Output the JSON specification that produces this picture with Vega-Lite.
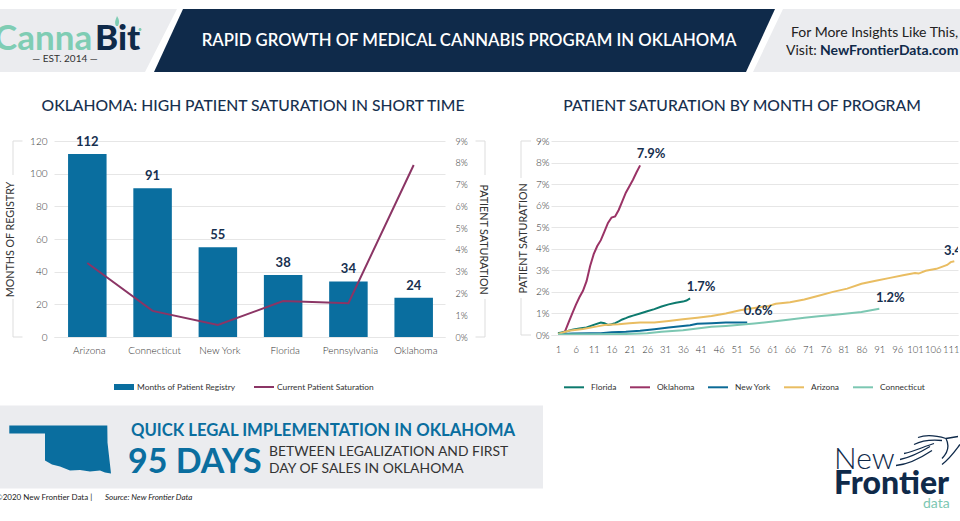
{
"$schema":"https://vega.github.io/schema/vega-lite/v6.json",
"padding":0,"background":"white",
"config":{"view":{"stroke":null},"font":"Lato","axis":{"labelFont":"Lato","titleFont":"Lato","labelFontWeight":300,"titleFontWeight":400},"legend":{"labelFont":"Lato"},"title":{"font":"Lato"}},
"datasets":{
"states":[
{"state":"Arizona","months":112,"sat":3.4},
{"state":"Connecticut","months":91,"sat":1.2},
{"state":"New York","months":55,"sat":0.55},
{"state":"Florida","months":38,"sat":1.65},
{"state":"Pennsylvania","months":34,"sat":1.55},
{"state":"Oklahoma","months":24,"sat":7.9}],
"series":[
{"s":"Oklahoma","m":1,"v":0.06},{"s":"Oklahoma","m":2,"v":0.08},{"s":"Oklahoma","m":3,"v":0.18},{"s":"Oklahoma","m":4,"v":0.6},{"s":"Oklahoma","m":5,"v":1.0},{"s":"Oklahoma","m":6,"v":1.4},{"s":"Oklahoma","m":7,"v":1.75},{"s":"Oklahoma","m":8,"v":2.05},{"s":"Oklahoma","m":9,"v":2.5},{"s":"Oklahoma","m":10,"v":3.2},{"s":"Oklahoma","m":11,"v":3.75},{"s":"Oklahoma","m":12,"v":4.13},{"s":"Oklahoma","m":13,"v":4.4},{"s":"Oklahoma","m":14,"v":4.8},{"s":"Oklahoma","m":15,"v":5.2},{"s":"Oklahoma","m":16,"v":5.45},{"s":"Oklahoma","m":17,"v":5.5},{"s":"Oklahoma","m":18,"v":5.8},{"s":"Oklahoma","m":19,"v":6.2},{"s":"Oklahoma","m":20,"v":6.6},{"s":"Oklahoma","m":21,"v":6.9},{"s":"Oklahoma","m":22,"v":7.2},{"s":"Oklahoma","m":23,"v":7.55},{"s":"Oklahoma","m":24,"v":7.87},
{"s":"Florida","m":1,"v":0.08},{"s":"Florida","m":3,"v":0.15},{"s":"Florida","m":5,"v":0.25},{"s":"Florida","m":7,"v":0.3},{"s":"Florida","m":9,"v":0.35},{"s":"Florida","m":11,"v":0.47},{"s":"Florida","m":13,"v":0.58},{"s":"Florida","m":14,"v":0.55},{"s":"Florida","m":15,"v":0.47},{"s":"Florida","m":16,"v":0.5},{"s":"Florida","m":17,"v":0.55},{"s":"Florida","m":18,"v":0.63},{"s":"Florida","m":19,"v":0.72},{"s":"Florida","m":20,"v":0.78},{"s":"Florida","m":21,"v":0.85},{"s":"Florida","m":22,"v":0.9},{"s":"Florida","m":24,"v":1.0},{"s":"Florida","m":26,"v":1.1},{"s":"Florida","m":28,"v":1.2},{"s":"Florida","m":30,"v":1.32},{"s":"Florida","m":32,"v":1.42},{"s":"Florida","m":34,"v":1.5},{"s":"Florida","m":36,"v":1.55},{"s":"Florida","m":37,"v":1.6},{"s":"Florida","m":38,"v":1.7},
{"s":"New York","m":1,"v":0.03},{"s":"New York","m":5,"v":0.07},{"s":"New York","m":10,"v":0.08},{"s":"New York","m":13,"v":0.08},{"s":"New York","m":16,"v":0.13},{"s":"New York","m":20,"v":0.15},{"s":"New York","m":24,"v":0.2},{"s":"New York","m":28,"v":0.27},{"s":"New York","m":32,"v":0.35},{"s":"New York","m":36,"v":0.42},{"s":"New York","m":38,"v":0.45},{"s":"New York","m":40,"v":0.52},{"s":"New York","m":44,"v":0.55},{"s":"New York","m":48,"v":0.58},{"s":"New York","m":54,"v":0.58},
{"s":"Arizona","m":1,"v":0.05},{"s":"Arizona","m":4,"v":0.2},{"s":"Arizona","m":8,"v":0.28},{"s":"Arizona","m":12,"v":0.4},{"s":"Arizona","m":14,"v":0.46},{"s":"Arizona","m":18,"v":0.5},{"s":"Arizona","m":21,"v":0.55},{"s":"Arizona","m":24,"v":0.58},{"s":"Arizona","m":28,"v":0.58},{"s":"Arizona","m":32,"v":0.65},{"s":"Arizona","m":36,"v":0.73},{"s":"Arizona","m":40,"v":0.8},{"s":"Arizona","m":44,"v":0.88},{"s":"Arizona","m":48,"v":1.0},{"s":"Arizona","m":52,"v":1.15},{"s":"Arizona","m":56,"v":1.25},{"s":"Arizona","m":60,"v":1.35},{"s":"Arizona","m":62,"v":1.45},{"s":"Arizona","m":66,"v":1.52},{"s":"Arizona","m":70,"v":1.65},{"s":"Arizona","m":74,"v":1.82},{"s":"Arizona","m":78,"v":2.0},{"s":"Arizona","m":82,"v":2.15},{"s":"Arizona","m":86,"v":2.38},{"s":"Arizona","m":90,"v":2.52},{"s":"Arizona","m":94,"v":2.65},{"s":"Arizona","m":98,"v":2.78},{"s":"Arizona","m":101,"v":2.88},{"s":"Arizona","m":102,"v":2.85},{"s":"Arizona","m":104,"v":2.98},{"s":"Arizona","m":107,"v":3.07},{"s":"Arizona","m":110,"v":3.25},{"s":"Arizona","m":111,"v":3.38},{"s":"Arizona","m":112,"v":3.42},
{"s":"Connecticut","m":1,"v":0.02},{"s":"Connecticut","m":10,"v":0.03},{"s":"Connecticut","m":20,"v":0.05},{"s":"Connecticut","m":26,"v":0.08},{"s":"Connecticut","m":30,"v":0.15},{"s":"Connecticut","m":36,"v":0.22},{"s":"Connecticut","m":40,"v":0.3},{"s":"Connecticut","m":44,"v":0.38},{"s":"Connecticut","m":48,"v":0.42},{"s":"Connecticut","m":52,"v":0.47},{"s":"Connecticut","m":56,"v":0.53},{"s":"Connecticut","m":60,"v":0.6},{"s":"Connecticut","m":66,"v":0.72},{"s":"Connecticut","m":70,"v":0.8},{"s":"Connecticut","m":74,"v":0.87},{"s":"Connecticut","m":78,"v":0.93},{"s":"Connecticut","m":82,"v":1.0},{"s":"Connecticut","m":86,"v":1.07},{"s":"Connecticut","m":91,"v":1.22}],
"ends":[{"s":"Oklahoma","m":24,"v":7.87,"t":"7.9%"},{"s":"Florida","m":38,"v":1.7,"t":"1.7%"},{"s":"New York","m":54,"v":0.58,"t":"0.6%"},{"s":"Connecticut","m":91,"v":1.22,"t":"1.2%"},{"s":"Arizona","m":112,"v":3.42,"t":"3.4%"}]
},
"spacing":0,"align":"none",
"vconcat":[
{"width":960,"height":98,
 "layer":[
 {"data":{"values":[{"k":"panels"}]},"mark":{"type":"point","filled":true,"fill":"#ebecef","stroke":null,"opacity":1,"size":4,"clip":true,"shape":"M-480,-40L-303,-40L-335,23L-480,23ZM303,-40L480,-40L480,23L273,23Z"},"encoding":{}},
 {"data":{"values":[{"k":"banner"}]},"mark":{"type":"point","filled":true,"fill":"#0f2a4a","stroke":null,"opacity":1,"size":4,"clip":true,"shape":"M-297,-40L295,-40L266,23L-326,23Z"},"encoding":{}},
 {"data":{"values":[{"k":"leaf"}]},"mark":{"type":"point","filled":true,"fill":"#7fcdb4","stroke":null,"opacity":1,"size":4,"clip":true,"shape":"M-364,-23C-366,-27 -364,-30 -363,-33C-361,-30 -360,-27 -362,-23ZM-340,-18A1.5,1.5 0 1 1 -339.9,-18Z"},"encoding":{}},
 {"data":{"values":[{"t":"RAPID GROWTH OF MEDICAL CANNABIS PROGRAM IN OKLAHOMA"}]},"mark":{"type":"text","align":"center","baseline":"alphabetic","dx":-11,"dy":-3,"font":"Lato","fontSize":16.7,"fontWeight":600,"fill":"white","clip":true},"encoding":{"text":{"field":"t"}}},
 {"data":{"values":[{"t":"For More Insights Like This,"}]},"mark":{"type":"text","align":"left","baseline":"alphabetic","dx":311,"dy":-12,"font":"Lato","fontSize":14,"fill":"#222","clip":true},"encoding":{"text":{"field":"t"}}},
 {"data":{"values":[{"t":"Visit:"}]},"mark":{"type":"text","align":"left","baseline":"alphabetic","dx":306,"dy":6,"font":"Lato","fontSize":14,"fill":"#222","clip":true},"encoding":{"text":{"field":"t"}}},
 {"data":{"values":[{"t":"NewFrontierData.com"}]},"mark":{"type":"text","align":"left","baseline":"alphabetic","dx":340,"dy":6,"font":"Lato","fontSize":14,"fontWeight":700,"fill":"#0f2a4a","clip":true},"encoding":{"text":{"field":"t"}}},
 {"data":{"values":[{"t":"Canna"}]},"mark":{"type":"text","align":"left","baseline":"alphabetic","dx":-486,"dy":1,"font":"Lato","fontSize":35,"fontWeight":700,"fill":"#7fcdb4","clip":true},"encoding":{"text":{"field":"t"}}},
 {"data":{"values":[{"t":"Bit"}]},"mark":{"type":"text","align":"left","baseline":"alphabetic","dx":-385,"dy":1,"font":"Lato","fontSize":35,"fontWeight":900,"fill":"#0f2a4a","clip":true},"encoding":{"text":{"field":"t"}}},
 {"data":{"values":[{"t":"— EST. 2014 —"}]},"mark":{"type":"text","align":"center","baseline":"alphabetic","dx":-415,"dy":13,"font":"Lato","fontSize":10,"fill":"#333","clip":true},"encoding":{"text":{"field":"t"}}}
 ]},
{"spacing":0,"align":"none",
 "resolve":{"scale":{"color":"independent","stroke":"independent"},"legend":{"color":"independent","stroke":"independent"}},
 "hconcat":[
 {"width":1,"height":1,"data":{"values":[{"k":"spacer"}]},"mark":{"type":"point","opacity":0,"size":0},"encoding":{}},
 {"width":391,"height":196,
  "title":{"text":"OKLAHOMA: HIGH PATIENT SATURATION IN SHORT TIME","anchor":"middle","frame":"group","dx":3.5,"offset":21,"fontSize":15.7,"fontWeight":500,"color":"#17304f"},
  "layer":[
  {"layer":[
   {"data":{"name":"states"},"mark":{"type":"bar","xOffset":1},
    "encoding":{"x":{"field":"state","type":"nominal","sort":null,"scale":{"paddingInner":0.41,"paddingOuter":0.2},"title":null,"axis":{"labelAngle":0,"labelFontSize":10,"labelColor":"#333","ticks":false,"labelPadding":8,"labelOffset":3,"domainColor":"#e6e6e6"}},
    "y":{"field":"months","type":"quantitative","scale":{"domain":[0,120],"nice":false},"title":"MONTHS OF REGISTRY","axis":{"values":[0,20,40,60,80,100,120],"tickCount":20,"grid":true,"gridColor":"#e6e6e6","domain":false,"ticks":false,"labelPadding":7,"labelFontSize":10,"labelColor":"#333","titleFontSize":10.7,"titleColor":"#333","titlePadding":14}},
    "color":{"datum":"Months of Patient Registry","scale":{"range":["#0a6e9f"]},"legend":{"orient":"none","legendX":59,"legendY":235,"title":null,"symbolType":"M-1,-0.3H1V0.3H-1Z","symbolSize":400,"labelFontSize":8.4,"labelColor":"#333","labelOffset":2}}}},
   {"data":{"name":"states"},"mark":{"type":"text","dy":-12,"xOffset":1,"font":"Lato","fontSize":13,"fontWeight":700,"fill":"#17304f"},
    "encoding":{"x":{"field":"state","type":"nominal","sort":null,"scale":{"paddingInner":0.41,"paddingOuter":0.2}},"y":{"field":"months","type":"quantitative","scale":{"domain":[0,120],"nice":false}},"text":{"field":"months"}}}
  ]},
  {"data":{"name":"states"},"mark":{"type":"line","strokeWidth":2,"xOffset":1},
   "encoding":{"x":{"field":"state","type":"nominal","sort":null,"scale":{"paddingInner":0.41,"paddingOuter":0.2}},
   "y":{"field":"sat","type":"quantitative","scale":{"domain":[0,9],"nice":false},"title":"PATIENT SATURATION","axis":{"orient":"right","values":[0,1,2,3,4,5,6,7,8,9],"tickCount":20,"labelExpr":"datum.value+'%'","grid":false,"domain":false,"ticks":false,"labelPadding":10,"labelFontSize":9,"labelColor":"#333","titleFontSize":10.7,"titleColor":"#333","titlePadding":10}},
   "stroke":{"datum":"Current Patient Saturation","scale":{"range":["#8b3565"]},"legend":{"orient":"none","legendX":199,"legendY":235,"title":null,"symbolType":"stroke","symbolSize":400,"symbolStrokeWidth":2,"labelFontSize":8.4,"labelColor":"#333","labelOffset":2}}}},
  {"data":{"values":[{"k":"brackets"}]},"mark":{"type":"point","filled":false,"stroke":"#dddddd","strokeWidth":1,"opacity":1,"size":4,"shape":"M-227,-98H-236.5V-64M-236.5,60V98H-227M226,-98H235.5V-64M235.5,60V98H226M-246.5,0L-246.5,0"},"encoding":{}}
  ],
  "resolve":{"scale":{"y":"independent","color":"independent"}}},
 {"width":407,"height":194,
  "title":{"text":"PATIENT SATURATION BY MONTH OF PROGRAM","anchor":"middle","frame":"group","dx":-12.5,"offset":21,"fontSize":15.7,"fontWeight":500,"color":"#17304f"},
  "layer":[
  {"data":{"name":"series"},"mark":{"type":"line","strokeWidth":2,"clip":true},
   "encoding":{"x":{"field":"m","type":"quantitative","scale":{"domain":[-0.96,113.04],"nice":false,"zero":false},"title":null,"axis":{"values":[1,6,11,16,21,26,31,36,41,46,51,56,61,66,71,76,81,86,91,96,101,106,111],"tickCount":40,"format":"d","grid":false,"ticks":false,"labelPadding":9,"labelFontSize":9.5,"labelColor":"#333","labelFlush":false,"labelOverlap":false,"domainColor":"#e6e6e6"}},
   "y":{"field":"v","type":"quantitative","scale":{"domain":[0,9],"nice":false},"title":"PATIENT SATURATION","axis":{"values":[0,1,2,3,4,5,6,7,8,9],"tickCount":20,"labelExpr":"datum.value+'%'","grid":true,"gridColor":"#e6e6e6","domain":false,"ticks":false,"labelPadding":2,"labelFontSize":10,"labelColor":"#333","titleFontSize":10.7,"titleColor":"#333","titlePadding":7}},
   "stroke":{"field":"s","type":"nominal","scale":{"domain":["Florida","Oklahoma","New York","Arizona","Connecticut"],"range":["#0d7a6e","#9a3366","#0b6a96","#e9bd62","#7cc7b2"]},"legend":{"orient":"none","direction":"horizontal","columns":5,"legendX":12,"legendY":235,"title":null,"symbolType":"stroke","symbolSize":400,"symbolStrokeWidth":2,"labelFontSize":8.4,"labelColor":"#333","labelOffset":6,"columnPadding":9}},
   "order":{"field":"m"}}},
  {"data":{"name":"ends"},"transform":[{"filter":"datum.s!='Arizona'"}],"mark":{"type":"text","dx":11,"dy":-11,"font":"Lato","fontSize":13,"fontWeight":700,"fill":"#17304f","clip":true},"encoding":{"x":{"field":"m","type":"quantitative"},"y":{"field":"v","type":"quantitative"},"text":{"field":"t"}}},
  {"data":{"name":"ends"},"transform":[{"filter":"datum.s=='Arizona'"}],"mark":{"type":"text","dx":4,"dy":-10,"font":"Lato","fontSize":13,"fontWeight":700,"fill":"#17304f","clip":true},"encoding":{"x":{"field":"m","type":"quantitative"},"y":{"field":"v","type":"quantitative"},"text":{"field":"t"}}},
  {"data":{"values":[{"k":"bracket"}]},"mark":{"type":"point","filled":false,"stroke":"#dddddd","strokeWidth":1,"opacity":1,"size":4,"shape":"M-223.5,-97H-233.5V-60M-233.5,60V97H-223.5M-263.5,0L-263.5,0"},"encoding":{}}
  ]}
]},
{"width":960,"height":130,
 "layer":[
 {"data":{"values":[{"k":"band"}]},"mark":{"type":"point","filled":true,"fill":"#ebecef","stroke":null,"opacity":1,"size":4,"clip":true,"shape":"M-480,-51.5H63V31.5H-480Z"},"encoding":{}},
 {"data":{"values":[{"k":"Oklahoma"}]},"mark":{"type":"point","filled":true,"fill":"#0a6e9f","stroke":null,"opacity":1,"size":4,"clip":true,"shape":"M-470.7,-31.5L-372.7,-31.5L-372.5,-14.5L-369,16.5L-375,15.5L-380,13.5L-390,14.5L-400,13L-410,13.5L-420,9.5L-428,7.5L-435,3.5L-435,-23.5L-470.7,-23.5Z"},"encoding":{}},
 {"data":{"values":[{"t":"QUICK LEGAL IMPLEMENTATION IN OKLAHOMA"}]},"mark":{"type":"text","align":"left","baseline":"alphabetic","dx":-349,"dy":-21.5,"font":"Lato","fontSize":16.7,"fontWeight":700,"fill":"#0a6e9f","clip":true},"encoding":{"text":{"field":"t"}}},
 {"data":{"values":[{"t":"95 DAYS"}]},"mark":{"type":"text","align":"left","baseline":"alphabetic","dx":-352,"dy":15.5,"font":"Lato","fontSize":34,"fontWeight":700,"fill":"#0a6e9f","clip":true},"encoding":{"text":{"field":"t"}}},
 {"data":{"values":[{"t":"BETWEEN LEGALIZATION AND FIRST"}]},"mark":{"type":"text","align":"left","baseline":"alphabetic","dx":-211,"dy":-1.5,"font":"Lato","fontSize":13.9,"fill":"#333","clip":true},"encoding":{"text":{"field":"t"}}},
 {"data":{"values":[{"t":"DAY OF SALES IN OKLAHOMA"}]},"mark":{"type":"text","align":"left","baseline":"alphabetic","dx":-211,"dy":15.5,"font":"Lato","fontSize":13.9,"fill":"#333","clip":true},"encoding":{"text":{"field":"t"}}},
 {"data":{"values":[{"t":"©2020  New Frontier Data |"}]},"mark":{"type":"text","align":"left","baseline":"alphabetic","dx":-484,"dy":42.5,"font":"Lato","fontSize":8,"fill":"#222","clip":true},"encoding":{"text":{"field":"t"}}},
 {"data":{"values":[{"t":"Source: New Frontier Data"}]},"mark":{"type":"text","align":"left","baseline":"alphabetic","dx":-375,"dy":42.5,"font":"Lato","fontSize":8,"fontStyle":"italic","fill":"#222","clip":true},"encoding":{"text":{"field":"t"}}},
 {"data":{"values":[{"t":"New"}]},"mark":{"type":"text","align":"left","baseline":"alphabetic","dx":354,"dy":11.5,"font":"Lato","fontSize":30,"fontWeight":300,"fill":"#0f2a4a","clip":true},"encoding":{"text":{"field":"t"}}},
 {"data":{"values":[{"t":"Frontier"}]},"mark":{"type":"text","align":"left","baseline":"alphabetic","dx":354,"dy":36.5,"font":"Lato","fontSize":32,"fontWeight":900,"fill":"#0f2a4a","clip":true},"encoding":{"text":{"field":"t"}}},
 {"data":{"values":[{"t":"data"}]},"mark":{"type":"text","align":"left","baseline":"alphabetic","dx":443,"dy":50.5,"font":"Lato","fontSize":14,"fill":"#7cc7b2","clip":true},"encoding":{"text":{"field":"t"}}},
 {"data":{"values":[{"k":"horse"}]},"mark":{"type":"point","filled":false,"stroke":"#0f2a4a","strokeWidth":1.3,"opacity":1,"size":4,"clip":true,"shape":"M416,8.5C428,7.5 440,1.5 452,-6.5M420,2.5C430,0.5 440,-4.5 450,-10.5M424,-3.5C434,-5.5 444,-10.5 454,-13.5M434,-12.5C442,-16.5 452,-17.5 462,-16.5M438,-19.5C446,-22.5 456,-21.5 466,-18.5M466,-18.5L478,-20.5M466,-18.5C470,-10.5 468,-4.5 462,1.5M480,-12.5C474,-4.5 470,1.5 462,7.5"},"encoding":{}}
 ]}
]
}
